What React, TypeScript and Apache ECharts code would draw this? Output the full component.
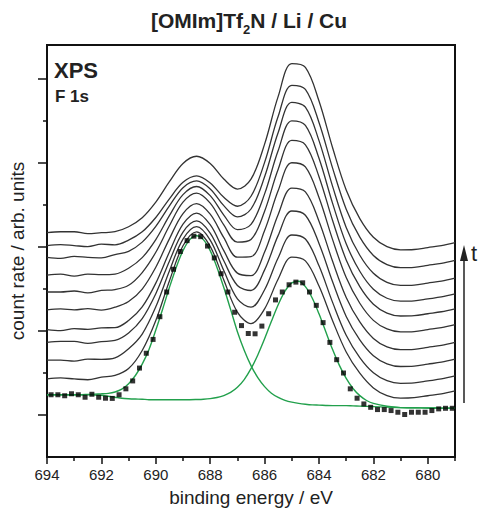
import React, { useEffect, useRef } from "react";
import * as echarts from "echarts";

const FONT = "Liberation Sans, Arial, sans-serif";

// binding energy grid of the time-resolved spectra (eV)
const energyGrid = [
  694, 693.5, 693, 692.5, 692, 691.5, 691, 690.5, 690, 689.5, 689, 688.5, 688, 687.5, 687, 686.5,
  686, 685.5, 685, 684.5, 684, 683.5, 683, 682.5, 682, 681.5, 681, 680.5, 680, 679.5, 679,
];

// stacked spectra (count rate, arb. units), bottom (01) to top (10)
const spectrum01 = [79, 80, 79, 78.2, 80.9, 82.6, 89.5, 107.8, 138.2, 178.2, 213.8, 227.9, 213.2, 179.2, 146.7, 134.9, 150, 180.2, 202.3, 198.5, 173, 137.9, 106.3, 84.8, 69.9, 62.1, 59.5, 60, 62, 64, 67];
const spectrum02 = [98, 98, 97, 99.1, 98.8, 100.3, 109.5, 124.4, 152, 188.3, 220.6, 233.2, 219.6, 188.7, 160, 151.6, 169.3, 201.7, 224.7, 220.6, 193.5, 156.5, 123.2, 100.6, 85.2, 77.2, 74.6, 75, 77, 79, 82];
const spectrum03 = [116, 117, 117, 115.1, 116.8, 118, 125.6, 140.1, 165.3, 198.2, 227.7, 239, 226.7, 198.6, 173.6, 168.5, 189.4, 224.3, 249, 244.7, 216.2, 177.3, 142.3, 118.6, 102.5, 94.3, 91.6, 92, 94, 96, 99];
const spectrum04 = [129, 128, 130, 129.1, 130.7, 130.9, 138.1, 151.9, 176, 207.5, 235.6, 246.9, 235.1, 208.9, 186.1, 183.6, 207.4, 245.5, 272.1, 268.3, 238.7, 198.1, 161.5, 136.7, 120, 111.4, 108.6, 109, 111, 113, 116];
const spectrum05 = [149, 150, 149, 150.1, 148.7, 151.6, 157.4, 170, 192.1, 220.8, 246.4, 256.5, 245.8, 222, 202.2, 202.7, 229.3, 269.7, 297.8, 293.6, 262.6, 220, 181.6, 155.6, 138.3, 129.6, 126.6, 127, 129, 131, 134];
const spectrum06 = [167, 167, 168, 166.1, 168.6, 169.5, 173.8, 186.7, 207.2, 234, 257.9, 267.1, 257, 234.9, 217.4, 220.1, 248.8, 291.3, 320.4, 316, 283.7, 239.3, 199.5, 172.4, 154.6, 145.7, 142.7, 143, 145, 147, 150];
const spectrum07 = [184, 185, 183, 185.1, 184.6, 185.2, 191.1, 201.8, 220.1, 244.3, 265.6, 273.8, 264.5, 244.9, 230.1, 235.4, 266.3, 310.2, 340.2, 335.6, 302.3, 256.7, 215.8, 188, 169.8, 160.7, 157.7, 158, 160, 162, 165];
const spectrum08 = [202, 201, 203, 202, 201.5, 204.9, 208.2, 217.5, 233.4, 254.1, 272.6, 279.4, 271.3, 254.4, 243, 251, 283.6, 328.5, 358.9, 354.1, 320.2, 273.9, 232.4, 204.2, 185.9, 176.8, 173.7, 174, 176, 178, 181];
const spectrum09 = [214, 215, 214, 213, 215.4, 214.8, 219.5, 227.9, 242.4, 261.3, 278, 284.5, 277.4, 262.8, 253.8, 263.9, 298.2, 344.8, 376.2, 372.1, 338.6, 292.4, 250.8, 222.5, 204, 194.8, 191.7, 192, 194, 196, 199];
const spectrum10 = [227, 228, 228, 226, 227, 228, 233, 242.1, 257.9, 278.6, 297.1, 304.4, 297.1, 281.3, 271.2, 281.2, 316.7, 365, 398.1, 394.4, 360.3, 313, 270.3, 241.3, 222.4, 212.9, 209.7, 210, 212, 214, 217];

// first spectrum: measured points (eV, counts)
const measuredEnergy = [
  693.85, 693.6, 693.35, 693.1, 692.85, 692.6, 692.35, 692.1, 691.85, 691.6, 691.35, 691.1, 690.85, 690.6, 690.35,
  690.1, 689.85, 689.6, 689.35, 689.1, 688.85, 688.6, 688.35, 688.1, 687.85, 687.6, 687.35, 687.1, 686.85, 686.6,
  686.35, 686.1, 685.85, 685.6, 685.35, 685.1, 684.85, 684.6, 684.35, 684.1, 683.85, 683.6, 683.35, 683.1, 682.85,
  682.6, 682.35, 682.1, 681.85, 681.6, 681.35, 681.1, 680.85, 680.6, 680.35, 680.1, 679.85, 679.6, 679.35, 679.1,
];
const measuredCounts = [
  63, 63, 62, 64, 63, 60.5, 63.5, 60.5, 59.5, 59.3, 63, 69, 77, 90, 105,
  119, 142, 167, 190, 208, 219, 223.5, 223, 213.5, 201.5, 185.5, 167, 146.5, 133, 125,
  124.7, 132.5, 145, 159, 167, 174.3, 177, 176.3, 167, 153.5, 136, 116, 98.5, 85, 69,
  59.5, 53.7, 50.3, 48, 48, 47, 45.3, 43, 45.3, 45.3, 45.3, 47, 48.7, 49.3, 49.3,
];

// fitted components (with background)
const fitEnergy = [
  694, 693.5, 693, 692.5, 692, 691.75, 691.5, 691.25, 691, 690.75, 690.5, 690.25, 690, 689.75, 689.5, 689.25, 689,
  688.75, 688.5, 688.25, 688, 687.75, 687.5, 687.25, 687, 686.75, 686.5, 686.25, 686, 685.75, 685.5, 685.25, 685,
  684.75, 684.5, 684.25, 684, 683.75, 683.5, 683.25, 683, 682.75, 682.5, 682.25, 682, 681.5, 681, 680.5, 680, 679.5, 679,
];
const fitPeakA = [
  63, 63, 63, 63.4, 64, 64.4, 65.8, 68.6, 74.2, 82.5, 94, 108.9, 128.5, 149.6, 171.5, 191.9, 208.9,
  220, 224, 220, 208.9, 191.9, 171.5, 149.4, 126.8, 108.1, 92.5, 80.3, 71.2, 64.6, 60.3, 57.4, 55.5,
  54.3, 53.4, 52.75, 52.5, 52.2, 52, 52, 52, 51.7, 51.5, 51.2, 51, 50.5, 50, 49.8, 49.6, 49.5, 49.5,
];
const fitPeakB = [
  63, 63, 63, 63, 62.5, 61.5, 60.5, 59.5, 59, 58.7, 58.5, 58, 58, 58, 58, 58, 58,
  58, 58.2, 58.5, 59.1, 60.2, 62.2, 65.4, 70.6, 78.4, 89.4, 103.3, 119.6, 137.3, 154.1, 167.8, 176.2,
  177.9, 172.4, 160.9, 144.9, 126.7, 108.7, 92.7, 79.5, 69.3, 62.1, 57.2, 54.2, 51.3, 50, 49.8, 49.6, 49.5, 49.5,
];

const xMajorTicks = [694, 692, 690, 688, 686, 684, 682, 680];
const xMinorTicks = [693, 691, 689, 687, 685, 683, 681, 679];
const yMajorTicks = [43, 128, 213, 298, 383];
const yMinorTicks = [85.5, 170.5, 255.5, 340.5];

const spectra = [spectrum01, spectrum02, spectrum03, spectrum04, spectrum05, spectrum06, spectrum07, spectrum08, spectrum09, spectrum10];

export default function App() {
  const ref = useRef<HTMLDivElement>(null);
  useEffect(() => {
    const chart = echarts.init(ref.current!, null, { renderer: "svg" });
    const lineSeries = spectra.map((s, k) => ({
      type: "line",
      name: "spectrum " + (k + 1),
      data: energyGrid.map((e, i) => [e, s[i]]),
      smooth: 0.35,
      symbol: "none",
      lineStyle: { color: "#333", width: 1.3 },
      z: 2,
    }));
    const green = "#22a04c";
    const option: any = {
      animation: false,
      backgroundColor: "#fff",
      grid: { left: 43, right: 24, top: 45, bottom: 50, show: true, borderColor: "#111", borderWidth: 2, backgroundColor: "transparent" },
      xAxis: [
        {
          type: "value", min: 679, max: 694, inverse: true, position: "bottom",
          axisLine: { show: true, onZero: false, lineStyle: { color: "#111", width: 2 } },
          axisTick: { show: true, length: 7, customValues: xMajorTicks, lineStyle: { color: "#111", width: 1.5 } },
          axisLabel: { customValues: xMajorTicks, fontSize: 15, color: "#222", margin: 10, fontFamily: FONT },
          splitLine: { show: false },
          name: "binding energy / eV", nameLocation: "middle", nameGap: 31,
          nameTextStyle: { fontSize: 19, color: "#222", fontFamily: FONT },
        },
        {
          type: "value", min: 679, max: 694, inverse: true, position: "bottom",
          axisLine: { show: false },
          axisTick: { show: true, length: 4, customValues: xMinorTicks, lineStyle: { color: "#111", width: 1.5 } },
          axisLabel: { show: false }, splitLine: { show: false },
        },
      ],
      yAxis: [
        {
          type: "value", min: 0, max: 417, position: "left",
          axisLine: { show: true, onZero: false, lineStyle: { color: "#111", width: 2 } },
          axisTick: { show: true, length: 9, customValues: yMajorTicks, lineStyle: { color: "#111", width: 1.5 } },
          axisLabel: { show: false }, splitLine: { show: false },
          name: "count rate / arb. units", nameLocation: "middle", nameGap: 20,
          nameTextStyle: { fontSize: 19, color: "#222", fontFamily: FONT },
        },
        {
          type: "value", min: 0, max: 417, position: "left",
          axisLine: { show: false },
          axisTick: { show: true, length: 4, customValues: yMinorTicks, lineStyle: { color: "#111", width: 1.5 } },
          axisLabel: { show: false }, splitLine: { show: false },
        },
      ],
      series: [
        ...lineSeries,
        {
          type: "line", name: "fit A", data: fitEnergy.map((e, i) => [e, fitPeakA[i]]),
          smooth: 0.3, symbol: "none", lineStyle: { color: green, width: 1.4 }, z: 3,
        },
        {
          type: "line", name: "fit B", data: fitEnergy.map((e, i) => [e, fitPeakB[i]]),
          smooth: 0.3, symbol: "none", lineStyle: { color: green, width: 1.4 }, z: 3,
        },
        {
          type: "scatter", name: "measured", data: measuredEnergy.map((e, i) => [e, measuredCounts[i]]),
          symbol: "rect", symbolSize: 5, itemStyle: { color: "#000" }, z: 4,
        },
      ],
      graphic: [
        {
          type: "text", x: 249, y: 4,
          style: {
            text: "{a|[OMIm]Tf}{s|2}{a|N / Li / Cu}",
            align: "center",
            fill: "#222",
            rich: {
              a: { fontSize: 21, fontWeight: "bold", fontFamily: FONT, lineHeight: 32, verticalAlign: "middle", fill: "#222" },
              s: { fontSize: 13, fontWeight: "bold", fontFamily: FONT, lineHeight: 13, verticalAlign: "bottom", fill: "#222" },
            },
          },
        },
        { type: "text", x: 54, y: 59, style: { text: "XPS", font: "bold 22px " + FONT, fill: "#222" } },
        { type: "text", x: 55, y: 88, style: { text: "F 1s", font: "bold 17px " + FONT, fill: "#222" } },
        { type: "line", shape: { x1: 464, y1: 403, x2: 464, y2: 258 }, style: { stroke: "#222", lineWidth: 1.5 } },
        { type: "polygon", shape: { points: [[460, 261], [468, 261], [464, 245]] }, style: { fill: "#222" } },
        { type: "text", x: 471, y: 242, style: { text: "t", font: "22px " + FONT, fill: "#222" } },
      ],
    };
    chart.setOption(option);
    return () => chart.dispose();
  }, []);
  return <div ref={ref} style={{ position: "fixed", left: 0, top: 0, width: 479, height: 512, background: "#fff" }} />;
}
